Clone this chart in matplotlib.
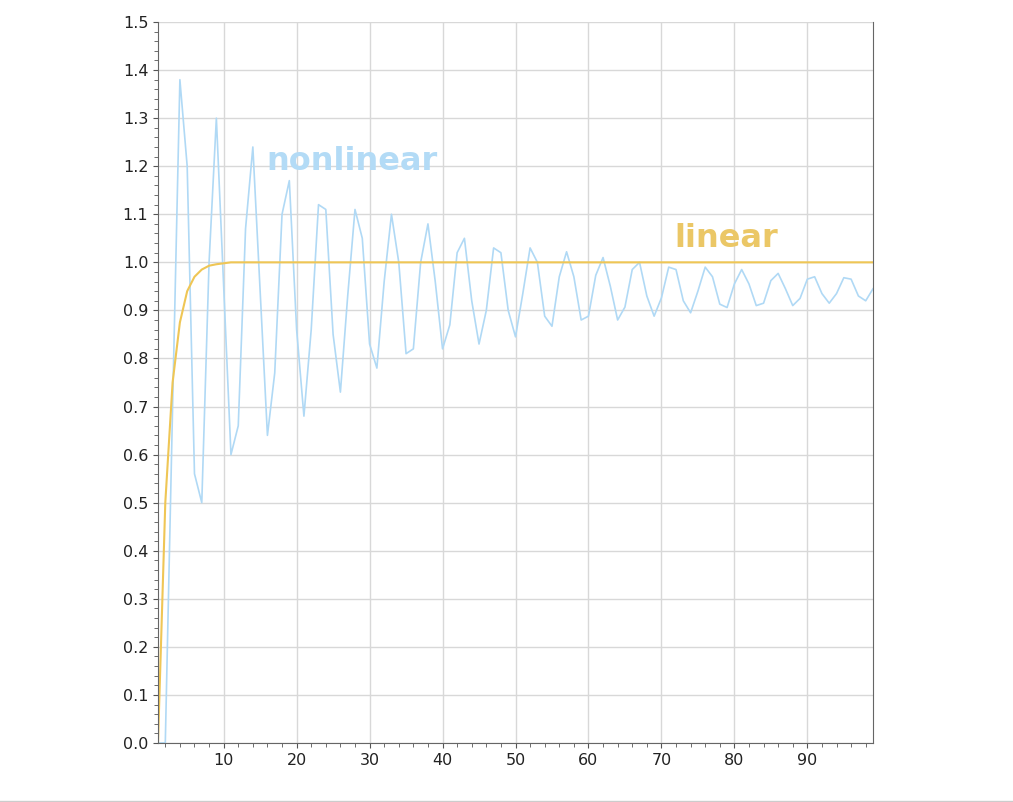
import matplotlib
matplotlib.use("Agg")
import matplotlib.pyplot as plt
from matplotlib.ticker import MultipleLocator
import numpy as np

x = np.arange(1, 100)
nonlinear = [
    0.0, 0.0, 0.70, 1.38, 1.20, 0.56, 0.50, 1.00, 1.30, 0.95,
    0.60, 0.66, 1.07, 1.24, 0.94, 0.64, 0.77, 1.10, 1.17, 0.86,
    0.68, 0.86, 1.12, 1.11, 0.85, 0.73, 0.93, 1.11, 1.05, 0.83,
    0.78, 0.96, 1.10, 1.00, 0.81, 0.82, 1.00, 1.08, 0.96, 0.82,
    0.87, 1.02, 1.05, 0.92, 0.83, 0.90, 1.03, 1.02, 0.90, 0.845,
    0.935, 1.03, 1.00, 0.888, 0.867, 0.97, 1.022, 0.97, 0.88, 0.888,
    0.973, 1.01, 0.95, 0.88, 0.907, 0.985, 1.00, 0.93, 0.888, 0.926,
    0.99, 0.985, 0.92, 0.895, 0.94, 0.99, 0.97, 0.913, 0.906, 0.955,
    0.985, 0.955, 0.91, 0.915, 0.962, 0.977, 0.945, 0.91, 0.925, 0.965,
    0.97, 0.935, 0.915, 0.935, 0.968, 0.965, 0.93, 0.92, 0.945,
]
linear = [0.0, 0.50, 0.75, 0.875, 0.94, 0.97, 0.985, 0.993, 0.996, 0.998] + [1.0] * 89

fig = plt.figure(figsize=(10.13, 8.02), dpi=100)
ax = fig.add_axes([158 / 1013, 1 - 743 / 802, 715 / 1013, 721 / 802])

ax.plot(x, nonlinear, color="#b0d9f5", lw=1.2)
ax.plot(x, linear, color="#efc655", lw=1.5)

ax.text(15.9, 1.21, "nonlinear", color="#b3dbf6", fontsize=23, fontweight="bold", va="center")
ax.text(71.8, 1.05, "linear", color="#ebc766", fontsize=23, fontweight="bold", va="center")

ax.set_xlim(1, 99)
ax.set_ylim(0, 1.5)
ax.xaxis.set_major_locator(MultipleLocator(10))
ax.xaxis.set_minor_locator(MultipleLocator(2))
ax.yaxis.set_major_locator(MultipleLocator(0.1))
ax.yaxis.set_minor_locator(MultipleLocator(0.02))
ax.set_yticklabels([f"{v:.1f}" for v in ax.get_yticks()])
ax.grid(True, which="major", color="#d8d8d8", lw=1)
ax.tick_params(which="both", colors="#555555", labelcolor="#222222", labelsize=11.5)
ax.tick_params(which="minor", length=3)
ax.spines["top"].set_visible(False)
for s in ["left", "bottom", "right"]:
    ax.spines[s].set_color("#666666")

fig.add_artist(plt.Line2D([0, 1], [1.5 / 802, 1.5 / 802], color="#cccccc", lw=1))
fig.savefig("out.png", dpi=100)
